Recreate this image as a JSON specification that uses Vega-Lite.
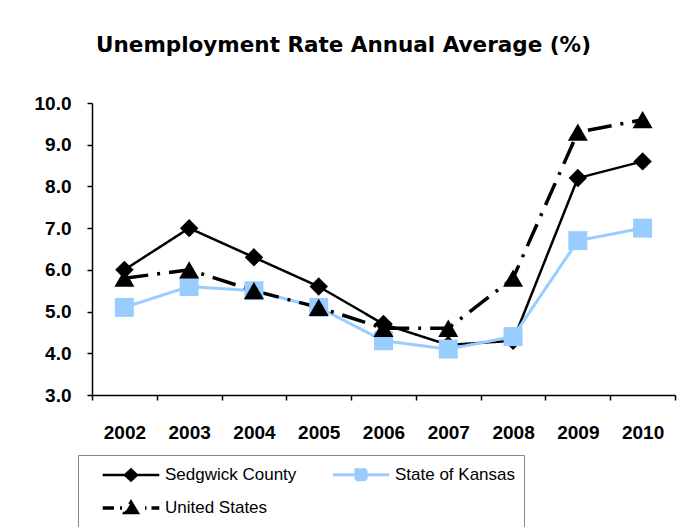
{
  "$schema": "https://vega.github.io/schema/vega-lite/v6.json",
  "width": 583,
  "height": 292,
  "padding": {"left": 34, "top": 34, "right": 14, "bottom": 5},
  "background": "white",
  "config": {"view": {"stroke": null}, "font": "Liberation Sans"},
  "title": {
    "text": "Unemployment Rate Annual Average (%)",
    "font": "DejaVu Sans",
    "fontSize": 21.5,
    "fontWeight": "bold",
    "color": "black",
    "anchor": "middle",
    "frame": "group",
    "dx": -40,
    "offset": 38
  },
  "data": {
    "values": [
      {"series": "Sedgwick County", "year": 2002, "rate": 6.0},
      {"series": "Sedgwick County", "year": 2003, "rate": 7.0},
      {"series": "Sedgwick County", "year": 2004, "rate": 6.3},
      {"series": "Sedgwick County", "year": 2005, "rate": 5.6},
      {"series": "Sedgwick County", "year": 2006, "rate": 4.7},
      {"series": "Sedgwick County", "year": 2007, "rate": 4.2},
      {"series": "Sedgwick County", "year": 2008, "rate": 4.3},
      {"series": "Sedgwick County", "year": 2009, "rate": 8.2},
      {"series": "Sedgwick County", "year": 2010, "rate": 8.6},
      {"series": "State of Kansas", "year": 2002, "rate": 5.1},
      {"series": "State of Kansas", "year": 2003, "rate": 5.6},
      {"series": "State of Kansas", "year": 2004, "rate": 5.5},
      {"series": "State of Kansas", "year": 2005, "rate": 5.1},
      {"series": "State of Kansas", "year": 2006, "rate": 4.3},
      {"series": "State of Kansas", "year": 2007, "rate": 4.1},
      {"series": "State of Kansas", "year": 2008, "rate": 4.4},
      {"series": "State of Kansas", "year": 2009, "rate": 6.7},
      {"series": "State of Kansas", "year": 2010, "rate": 7.0},
      {"series": "United States", "year": 2002, "rate": 5.8},
      {"series": "United States", "year": 2003, "rate": 6.0},
      {"series": "United States", "year": 2004, "rate": 5.5},
      {"series": "United States", "year": 2005, "rate": 5.1},
      {"series": "United States", "year": 2006, "rate": 4.6},
      {"series": "United States", "year": 2007, "rate": 4.6},
      {"series": "United States", "year": 2008, "rate": 5.8},
      {"series": "United States", "year": 2009, "rate": 9.3},
      {"series": "United States", "year": 2010, "rate": 9.6}
    ]
  },
  "encoding": {
    "x": {
      "field": "year",
      "type": "quantitative",
      "scale": {"domain": [2001.5, 2010.5], "nice": false, "zero": false},
      "axis": {
        "values": [2001.5, 2002.5, 2003.5, 2004.5, 2005.5, 2006.5, 2007.5, 2008.5, 2009.5, 2010.5],
        "labelExpr": "datum.value > 2010 ? '' : format(datum.value + 0.5, 'd')",
        "labelOffset": 32.4,
        "grid": false,
        "title": null,
        "domainColor": "black",
        "domainWidth": 1.5,
        "tickColor": "black",
        "tickWidth": 1.5,
        "tickSize": 5,
        "labelFont": "Liberation Sans",
        "labelFontSize": 19,
        "labelFontWeight": "bold",
        "labelColor": "black",
        "labelPadding": 23,
        "labelFlush": false,
        "labelOverlap": false,
        "labelBound": false
      }
    },
    "y": {
      "field": "rate",
      "type": "quantitative",
      "scale": {"domain": [3, 10], "nice": false, "zero": false},
      "axis": {
        "values": [3, 4, 5, 6, 7, 8, 9, 10],
        "format": ".1f",
        "grid": false,
        "title": null,
        "domainColor": "black",
        "domainWidth": 1.5,
        "tickColor": "black",
        "tickWidth": 1.5,
        "tickSize": 5,
        "labelFont": "Liberation Sans",
        "labelFontSize": 19,
        "labelFontWeight": "bold",
        "labelColor": "black",
        "labelPadding": 16
      }
    }
  },
  "layer": [
    {
      "mark": {"type": "line"},
      "encoding": {
        "color": {
          "field": "series",
          "type": "nominal",
          "scale": {"domain": ["Sedgwick County", "State of Kansas", "United States"], "range": ["black", "#99CCFF", "black"]},
          "legend": {
            "title": null,
            "orient": "none",
            "direction": "horizontal",
            "legendX": -14,
            "legendY": 352,
            "columns": 2,
            "strokeColor": "#888888",
            "padding": 8,
            "symbolSize": 400,
            "symbolOffset": 33,
            "labelOffset": 22,
            "rowPadding": 9,
            "columnPadding": 19,
            "labelFont": "Liberation Sans",
            "labelFontSize": 17,
            "labelColor": "black",
            "labelLimit": 300,
            "symbolStrokeWidth": 1.5,
            "encode": {
              "symbols": {
                "update": {
                  "shape": {"signal": "datum.value === 'Sedgwick County' ? 'M-2.83,0H2.83M0,-0.55L0.6,0L0,0.55L-0.6,0Z' : (datum.value === 'State of Kansas' ? 'M-2.83,0H2.83M-0.5,-0.5H0.5V0.5H-0.5Z' : 'M-2.83,0H-1.7M-1.1,0H-0.9M0,-0.55L0.6,0.45H-0.6ZM1.4,0H1.55M2.05,0H2.83')"},
                  "fill": {"signal": "datum.value === 'State of Kansas' ? '#99CCFF' : 'black'"},
                  "stroke": {"signal": "datum.value === 'State of Kansas' ? '#99CCFF' : 'black'"},
                  "strokeDash": {"value": []},
                  "strokeWidth": {"value": 1.5},
                  "opacity": {"value": 1}
                }
              }
            }
          }
        },
        "strokeDash": {
          "field": "series",
          "type": "nominal",
          "scale": {"domain": ["Sedgwick County", "State of Kansas", "United States"], "range": [[1, 0], [1, 0], [24, 9, 3, 9]]},
          "legend": null
        },
        "strokeWidth": {
          "field": "series",
          "type": "nominal",
          "scale": {"domain": ["Sedgwick County", "State of Kansas", "United States"], "range": [2.5, 3.5, 2.5]},
          "legend": null
        }
      }
    },
    {
      "transform": [{"filter": "datum.series === 'Sedgwick County'"}],
      "mark": {"type": "point", "filled": true, "opacity": 1, "shape": "diamond", "size": 340, "color": "black"}
    },
    {
      "transform": [{"filter": "datum.series === 'State of Kansas'"}],
      "mark": {"type": "point", "filled": true, "opacity": 1, "shape": "square", "size": 360, "color": "#99CCFF"}
    },
    {
      "transform": [{"filter": "datum.series === 'United States'"}],
      "mark": {"type": "point", "filled": true, "opacity": 1, "shape": "triangle-up", "size": 400, "color": "black"}
    }
  ]
}
